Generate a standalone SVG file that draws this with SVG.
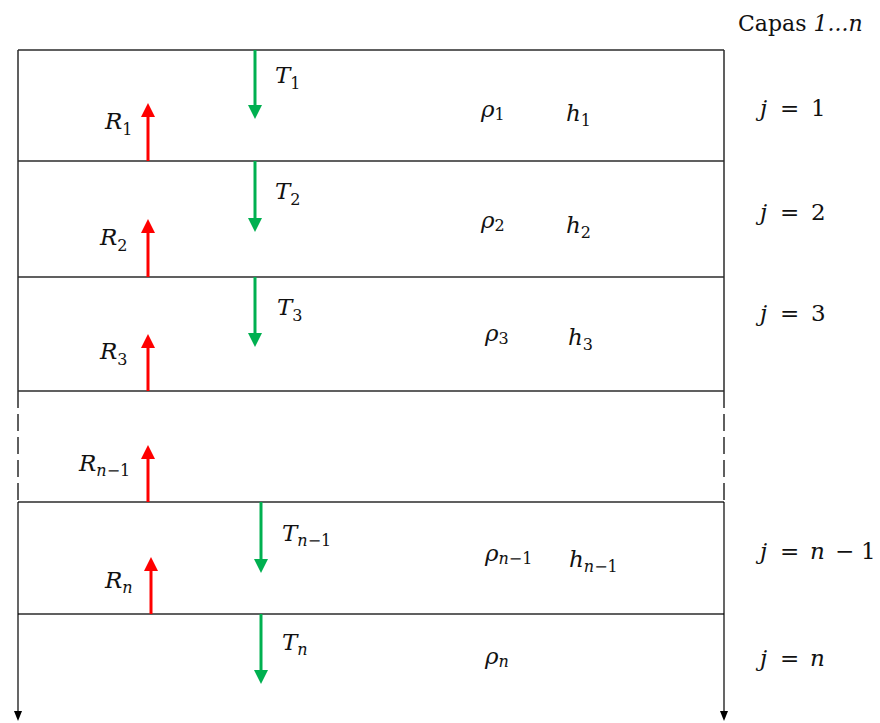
<svg xmlns="http://www.w3.org/2000/svg" width="880" height="723" viewBox="0 0 880 723">
<style>
.ln{stroke:#2b2b2b;stroke-width:1.5;fill:none}
.dash{stroke:#2b2b2b;stroke-width:1.5;fill:none;stroke-dasharray:17 6}
.g{stroke:#00B050;stroke-width:3;fill:none;marker-end:url(#ag)}
.r{stroke:#FF0000;stroke-width:3;fill:none;marker-end:url(#ar)}
.k{stroke:#000;stroke-width:1.2;fill:none;marker-end:url(#ak)}
.m{font-family:"DejaVu Serif","Liberation Serif",serif;font-style:italic;font-size:23px;fill:#111}
.s{font-size:16px;font-style:normal}
.si{font-size:16px}
.u{font-style:normal}
.cap{font-family:"DejaVu Serif","Liberation Serif",serif;font-size:22px;fill:#111}
</style>
<defs>
<marker id="ag" markerUnits="userSpaceOnUse" markerWidth="14" markerHeight="14" refX="0" refY="7" orient="auto"><path d="M0,0 L14,7 L0,14 z" fill="#00B050"/></marker>
<marker id="ar" markerUnits="userSpaceOnUse" markerWidth="14" markerHeight="14" refX="0" refY="7" orient="auto"><path d="M0,0 L14,7 L0,14 z" fill="#FF0000"/></marker>
<marker id="ak" markerUnits="userSpaceOnUse" markerWidth="10" markerHeight="8" refX="0" refY="4" orient="auto"><path d="M0,0 L10,4 L0,8 z" fill="#000"/></marker>
</defs>

<g id="frame">
<line class="ln" x1="18" y1="50" x2="724" y2="50"/>
<line class="ln" x1="18" y1="161" x2="724" y2="161"/>
<line class="ln" x1="18" y1="277" x2="724" y2="277"/>
<line class="ln" x1="18" y1="391" x2="724" y2="391"/>
<line class="ln" x1="18" y1="502" x2="724" y2="502"/>
<line class="ln" x1="18" y1="614" x2="724" y2="614"/>
<line class="ln" x1="18" y1="50" x2="18" y2="391"/>
<line class="ln" x1="724" y1="50" x2="724" y2="391"/>
<line class="dash" x1="18" y1="391" x2="18" y2="502"/>
<line class="dash" x1="724" y1="391" x2="724" y2="502"/>
<line class="k" x1="18" y1="502" x2="18" y2="711"/>
<line class="k" x1="724" y1="502" x2="724" y2="711"/>
</g>

<text id="title" class="cap" x="738" y="31">Capas <tspan font-style="italic">1...n</tspan></text>

<g id="connectors">
<line class="g" x1="255" y1="50" x2="255" y2="105"/>
<line class="g" x1="255" y1="161" x2="255" y2="218"/>
<line class="g" x1="255" y1="277" x2="255" y2="333"/>
<line class="g" x1="261" y1="502" x2="261" y2="559"/>
<line class="g" x1="261" y1="614" x2="261" y2="670"/>
<line class="r" x1="148" y1="161" x2="148" y2="117"/>
<line class="r" x1="148" y1="277" x2="148" y2="233"/>
<line class="r" x1="148" y1="391" x2="148" y2="348"/>
<line class="r" x1="148" y1="502" x2="148" y2="459"/>
<line class="r" x1="151" y1="614" x2="151" y2="571"/>
</g>

<g id="layer1">
<text class="m" x="275" y="83">T<tspan class="s" dy="6">1</tspan></text>
<text class="m" x="105" y="129">R<tspan class="s" dy="6">1</tspan></text>
<text class="m" x="481" y="117">ρ<tspan class="s" dy="3">1</tspan></text>
<text class="m" x="566" y="121">h<tspan class="s" dy="5">1</tspan></text>
<text class="m" x="760" y="116">j<tspan class="u" x="780">=</tspan><tspan class="u" x="811">1</tspan></text>
</g>

<g id="layer2">
<text class="m" x="275" y="199">T<tspan class="s" dy="6">2</tspan></text>
<text class="m" x="100" y="245">R<tspan class="s" dy="6">2</tspan></text>
<text class="m" x="481" y="228">ρ<tspan class="s" dy="3">2</tspan></text>
<text class="m" x="566" y="233">h<tspan class="s" dy="5">2</tspan></text>
<text class="m" x="760" y="220">j<tspan class="u" x="780">=</tspan><tspan class="u" x="811">2</tspan></text>
</g>

<g id="layer3">
<text class="m" x="277" y="315">T<tspan class="s" dy="6">3</tspan></text>
<text class="m" x="100" y="359">R<tspan class="s" dy="6">3</tspan></text>
<text class="m" x="485" y="341">ρ<tspan class="s" dy="3">3</tspan></text>
<text class="m" x="568" y="345">h<tspan class="s" dy="5">3</tspan></text>
<text class="m" x="760" y="321">j<tspan class="u" x="780">=</tspan><tspan class="u" x="811">3</tspan></text>
</g>

<g id="layerGap">
<text class="m" x="79" y="471">R<tspan class="si" dy="5">n</tspan><tspan class="s">−1</tspan></text>
</g>

<g id="layerN1">
<text class="m" x="282" y="541">T<tspan class="si" dy="5">n</tspan><tspan class="s">−1</tspan></text>
<text class="m" x="105" y="588">R<tspan class="si" dy="5">n</tspan></text>
<text class="m" x="485" y="561">ρ<tspan class="si" dy="3">n</tspan><tspan class="s">−1</tspan></text>
<text class="m" x="569" y="567">h<tspan class="si" dy="5">n</tspan><tspan class="s">−1</tspan></text>
<text class="m" x="760" y="559">j<tspan class="u" x="780">=</tspan><tspan x="810">n</tspan><tspan class="u" x="835">−</tspan><tspan class="u" x="861">1</tspan></text>
</g>

<g id="layerN">
<text class="m" x="282" y="650">T<tspan class="si" dy="5">n</tspan></text>
<text class="m" x="485" y="664">ρ<tspan class="si" dy="3">n</tspan></text>
<text class="m" x="760" y="666">j<tspan class="u" x="780">=</tspan><tspan x="810">n</tspan></text>
</g>
</svg>
